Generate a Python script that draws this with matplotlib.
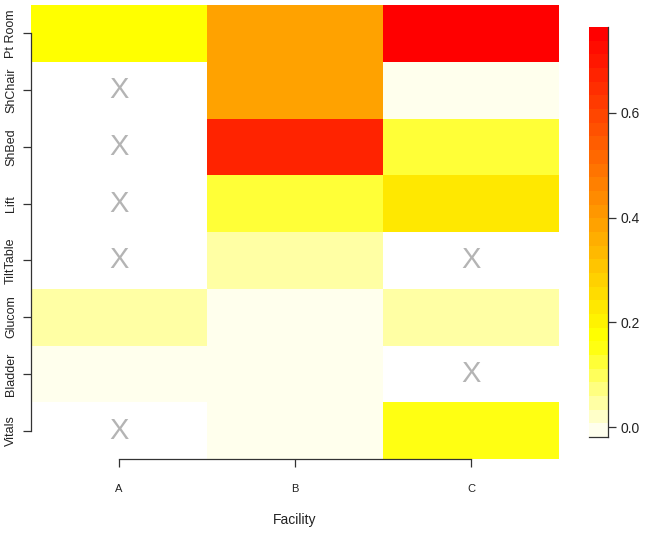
import numpy as np
import matplotlib
matplotlib.use("Agg")
import matplotlib.pyplot as plt
from matplotlib.colors import ListedColormap, BoundaryNorm, hsv_to_rgb

plt.rcParams['font.family'] = ['Liberation Sans', 'DejaVu Sans']

facilities = ["A", "B", "C"]
tasks = ["Pt Room", "ShChair", "ShBed", "Lift", "TiltTable", "Glucom", "Bladder", "Vitals"]
# values per task (rows, top to bottom) for facilities A, B, C; nan = not available (X)
values_A = [0.18, np.nan, np.nan, np.nan, np.nan, 0.05, 0.0, np.nan]
values_B = [0.39, 0.39, 0.67, 0.12, 0.05, 0.0, 0.0, 0.0]
values_C = [0.76, 0.0, 0.12, 0.23, np.nan, 0.05, np.nan, 0.15]
cbar_ticks = [0.0, 0.2, 0.4, 0.6]
vmin, vmax = -0.019, 0.764


def heat_colors(n):
    j = n // 4
    i = n - j
    cols = []
    for k in range(i):
        h = (k / (i - 1)) * (1 / 6) if i > 1 else 0
        cols.append(hsv_to_rgb([h, 1, 1]))
    if j > 0:
        sats = np.linspace(1 - 1 / (2 * j), 1 / (2 * j), j)
        for s in sats:
            cols.append(hsv_to_rgb([1 / 6, s, 1]))
    return cols


nlev = 30
cmap = ListedColormap(heat_colors(nlev)[::-1])
bounds = np.linspace(vmin, vmax, nlev + 1)
norm = BoundaryNorm(bounds, nlev)

data = np.array([values_A, values_B, values_C]).T  # rows x cols
masked = np.ma.masked_invalid(data)

fig = plt.figure(figsize=(6.5, 5.33), dpi=100)
W, H = 650, 533
ax = fig.add_axes([31 / W, (H - 459) / H, 528 / W, 454 / H])

nrow, ncol = data.shape
xe = np.arange(ncol + 1) - 0.5
ye = np.arange(nrow + 1) - 0.5
mesh = ax.pcolormesh(xe, ye, masked, cmap=cmap, norm=norm, shading='flat')
ax.set_xlim(-0.5, ncol - 0.5)
ax.set_ylim(nrow - 0.5, -0.5)

for r in range(nrow):
    for c in range(ncol):
        if np.isnan(data[r, c]):
            ax.text(c, r, "X", ha='center', va='center', fontsize=21,
                    color='#b4b4b4')

ax.set_xticks(range(ncol))
ax.set_xticklabels(facilities, fontsize=8, color='#222222')
ax.set_yticks(range(nrow))
ax.set_yticklabels(tasks, fontsize=9, rotation=90, va='center', color='#222222')
for sp in ['top', 'right']:
    ax.spines[sp].set_visible(False)
ax.spines['left'].set_bounds(0, nrow - 1)
ax.spines['bottom'].set_bounds(0, ncol - 1)
for sp in ['left', 'bottom']:
    ax.spines[sp].set_color('#333333')
    ax.spines[sp].set_linewidth(0.9)
ax.tick_params(axis='x', length=6, width=0.9, color='#333333', pad=12)
ax.tick_params(axis='y', length=6, width=0.9, color='#333333', pad=4)
ax.set_xlabel("Facility", fontsize=10, labelpad=14, color='#222222')

cax = fig.add_axes([589 / W, (H - 437) / H, 19 / W, 410 / H])
cb = fig.colorbar(mesh, cax=cax, ticks=cbar_ticks)
cb.minorticks_off()
cb.outline.set_visible(False)
cb.ax.set_yticklabels([f"{t:.1f}" for t in cbar_ticks], fontsize=10, color='#222222')
cb.ax.tick_params(which='major', length=6, width=0.9, color='#333333', pad=3)
cb.ax.tick_params(which='minor', length=0)
cax.plot([1, 1], [0, 1], transform=cax.transAxes, color='#333333', lw=0.9, clip_on=False)
cax.plot([0, 1], [0, 0], transform=cax.transAxes, color='#333333', lw=0.9, clip_on=False)

fig.savefig("out.png", dpi=100)
